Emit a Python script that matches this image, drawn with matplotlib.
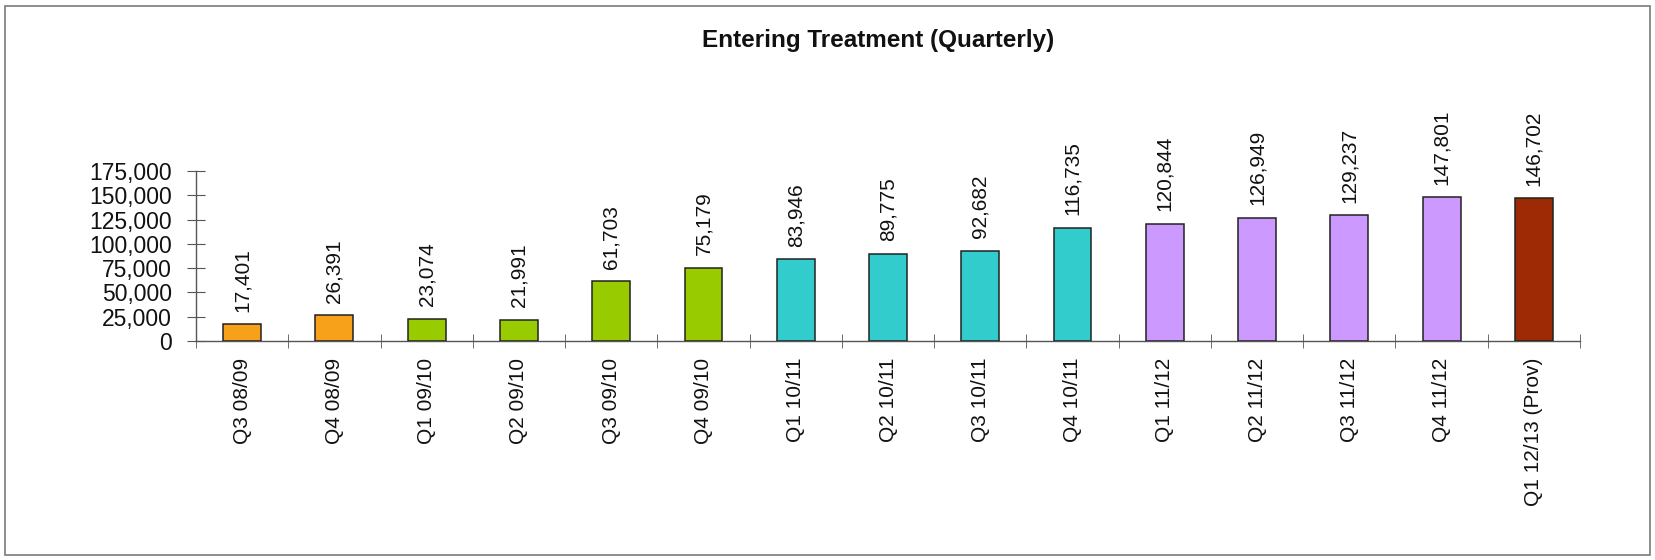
import numpy as np
import matplotlib.pyplot as plt
import matplotlib.patches as mpatches
from matplotlib.ticker import FuncFormatter, FixedLocator

plt.rcParams['font.family'] = ['Liberation Sans', 'DejaVu Sans']

# data
quarters = ['Q3 08/09', 'Q4 08/09', 'Q1 09/10', 'Q2 09/10', 'Q3 09/10',
            'Q4 09/10', 'Q1 10/11', 'Q2 10/11', 'Q3 10/11', 'Q4 10/11',
            'Q1 11/12', 'Q2 11/12', 'Q3 11/12', 'Q4 11/12', 'Q1 12/13 (Prov)']
entering = [17401, 26391, 23074, 21991, 61703,
            75179, 83946, 89775, 92682, 116735,
            120844, 126949, 129237, 147801, 146702]
bar_colors = ['#F7A01A', '#F7A01A', '#99CC00', '#99CC00', '#99CC00',
              '#99CC00', '#33CCCC', '#33CCCC', '#33CCCC', '#33CCCC',
              '#CC99FF', '#CC99FF', '#CC99FF', '#CC99FF', '#9E2A05']
y_ticks = [0, 25000, 50000, 75000, 100000, 125000, 150000, 175000]

fig = plt.figure(figsize=(16.55, 5.6), dpi=100)

# outer frame round the whole chart
frame = mpatches.Rectangle((5 / 1655, 5 / 560), 1645 / 1655, 549 / 560,
                           transform=fig.transFigure, fill=False,
                           edgecolor='#7a7a7a', linewidth=1.2)
fig.patches.append(frame)

ax = fig.add_axes([196 / 1655, 1 - 341 / 560, (1580 - 196) / 1655, 170 / 560])

x = np.arange(len(quarters))
bars = ax.bar(x, entering, width=0.41, color=bar_colors,
              edgecolor='#222222', linewidth=1.1, zorder=3)

# value labels, rotated, sitting above each bar
for xi, v in zip(x, entering):
    ax.annotate(f"{v:,}", (xi, v), xytext=(0, 9), textcoords='offset points',
                rotation=90, ha='center', va='bottom', fontsize=15,
                color='#111111')

ax.set_xlim(-0.5, len(quarters) - 0.5)
ax.set_ylim(0, 175000)
ax.set_yticks(y_ticks)
ax.yaxis.set_major_formatter(FuncFormatter(lambda v, p: f"{int(v):,}"))

ax.set_xticks(x)
ax.set_xticklabels(quarters, rotation=90, fontsize=15, color='#111111')
ax.xaxis.set_minor_locator(FixedLocator(np.arange(-0.5, len(quarters), 1.0)))
ax.tick_params(axis='x', which='major', length=0, pad=12)
ax.tick_params(axis='x', which='minor', length=10, direction='inout',
               color='#555555')
ax.tick_params(axis='y', length=13, direction='inout', color='#555555',
               labelsize=16.5, labelcolor='#111111', pad=11)

for s in ['top', 'right']:
    ax.spines[s].set_visible(False)
for s in ['left', 'bottom']:
    ax.spines[s].set_color('#555555')
    ax.spines[s].set_linewidth(1.0)

fig.text(878 / 1655, 1 - 40 / 560, 'Entering Treatment (Quarterly)',
         ha='center', va='center', fontsize=17.5, fontweight='bold',
         color='#111111')

fig.savefig('out.png', dpi=100)
